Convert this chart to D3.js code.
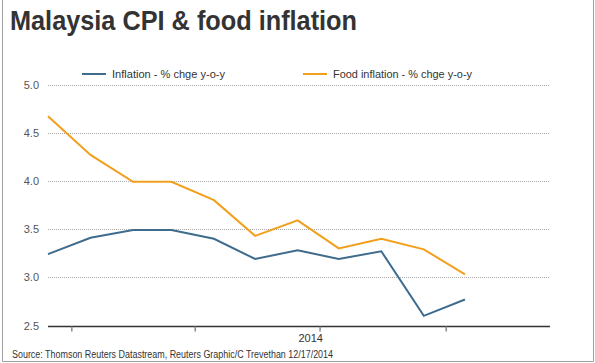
<!DOCTYPE html>
<html>
<head>
<meta charset="utf-8">
<script src="https://cdn.jsdelivr.net/npm/d3@7"></script>
<style>
  html, body { margin: 0; padding: 0; background: #fff; }
  svg { display: block; font-family: Arial, "Liberation Sans", sans-serif; }
</style>
</head>
<body>
<svg id="chart" width="595" height="363"></svg>
<script>
// ---- data ----
const months = ["2013-12-15","2014-01-15","2014-02-15","2014-03-15","2014-04-15","2014-05-15",
                "2014-06-15","2014-07-15","2014-08-15","2014-09-15","2014-10-15"];
const inflation = [3.24, 3.41, 3.49, 3.49, 3.40, 3.19, 3.28, 3.19, 3.27, 2.60, 2.77];
const foodInflation = [4.67, 4.27, 3.99, 3.99, 3.80, 3.43, 3.59, 3.30, 3.40, 3.29, 3.03];
const yTicks = [2.5, 3.0, 3.5, 4.0, 4.5, 5.0];
const xTicks = ["2014-01-01","2014-04-01","2014-07-01","2014-10-01"];
const yearLabel = "2014";
const seriesNames = ["Inflation - % chge y-o-y", "Food inflation - % chge y-o-y"];
const title = "Malaysia CPI & food inflation";
const source = "Source: Thomson Reuters Datastream, Reuters Graphic/C Trevethan 12/17/2014";

const parse = d3.timeParse("%Y-%m-%d");
const dates = months.map(parse);

const svg = d3.select("#chart");
const blue = "#3f6b8d", orange = "#f29f1c";

// frame
svg.append("path")
  .attr("d", "M2.5,0 V361.5 H593.5 V0")
  .attr("fill", "none").attr("stroke", "#a0a0a0").attr("stroke-width", 1);

// title
svg.append("text").attr("x", 10).attr("y", 30)
  .attr("font-size", 27).attr("font-weight", "bold").attr("fill", "#333")
  .attr("textLength", 347).attr("lengthAdjust", "spacingAndGlyphs")
  .text(title);

const x = d3.scaleTime()
  .domain([parse("2013-12-15"), parse("2014-12-16")])
  .range([48, 550]);
const y = d3.scaleLinear().domain([2.5, 5.0]).range([325.5, 84.5]);

// gridlines
svg.append("g").selectAll("line").data(yTicks.filter(d => d > 2.5)).join("line")
  .attr("x1", 48).attr("x2", 550)
  .attr("y1", d => Math.round(y(d)) + 0.5).attr("y2", d => Math.round(y(d)) + 0.5)
  .attr("stroke", "#a8a8a8").attr("stroke-width", 1).attr("stroke-dasharray", "1,1");

// y labels
const yAxis = d3.axisLeft(y).tickValues(yTicks).tickFormat(d3.format(".1f")).tickSize(0).tickPadding(0);
const gy = svg.append("g").attr("transform", "translate(39,0)").call(yAxis);
gy.select(".domain").remove();
gy.selectAll("text").attr("font-size", 11).attr("fill", "#555").attr("font-family", "Arial, 'Liberation Sans', sans-serif");

// x axis
const xAxis = d3.axisBottom(x).tickValues(xTicks.map(parse)).tickSize(5).tickFormat("");
const gx = svg.append("g").attr("transform", `translate(0,${Math.round(y(2.5)) + 0.5})`).call(xAxis);
gx.select(".domain").attr("d", "M48,0H550").attr("stroke", "#333").attr("stroke-width", 1.5);
gx.selectAll(".tick line").attr("stroke", "#888").attr("stroke-width", 1.5);

svg.append("text")
  .attr("x", (x(parse("2014-01-01")) + x.range()[1]) / 2).attr("y", 342)
  .attr("text-anchor", "middle").attr("font-size", 11).attr("fill", "#333")
  .text(yearLabel);

// lines
const line = d3.line().x((d, i) => x(dates[i])).y(d => y(d));
svg.append("path").datum(foodInflation).attr("d", line)
  .attr("fill", "none").attr("stroke", orange).attr("stroke-width", 2).attr("stroke-linejoin", "miter");
svg.append("path").datum(inflation).attr("d", line)
  .attr("fill", "none").attr("stroke", blue).attr("stroke-width", 2).attr("stroke-linejoin", "miter");

// legend
const legend = [
  {name: seriesNames[0], color: blue, x: 82, w: 113},
  {name: seriesNames[1], color: orange, x: 303, w: 139}
];
const lg = svg.append("g").selectAll("g").data(legend).join("g")
  .attr("transform", d => `translate(${d.x},74)`);
lg.append("line").attr("x1", 0).attr("x2", 24).attr("y1", 0).attr("y2", 0)
  .attr("stroke", d => d.color).attr("stroke-width", 2);
lg.append("text").attr("x", 30).attr("y", 4).attr("font-size", 10.5).attr("fill", "#333")
  .attr("textLength", d => d.w).attr("lengthAdjust", "spacingAndGlyphs")
  .text(d => d.name);

// source
svg.append("text").attr("x", 12).attr("y", 358)
  .attr("font-size", 10).attr("fill", "#333")
  .attr("textLength", 321).attr("lengthAdjust", "spacingAndGlyphs")
  .text(source);
</script>
</body>
</html>
